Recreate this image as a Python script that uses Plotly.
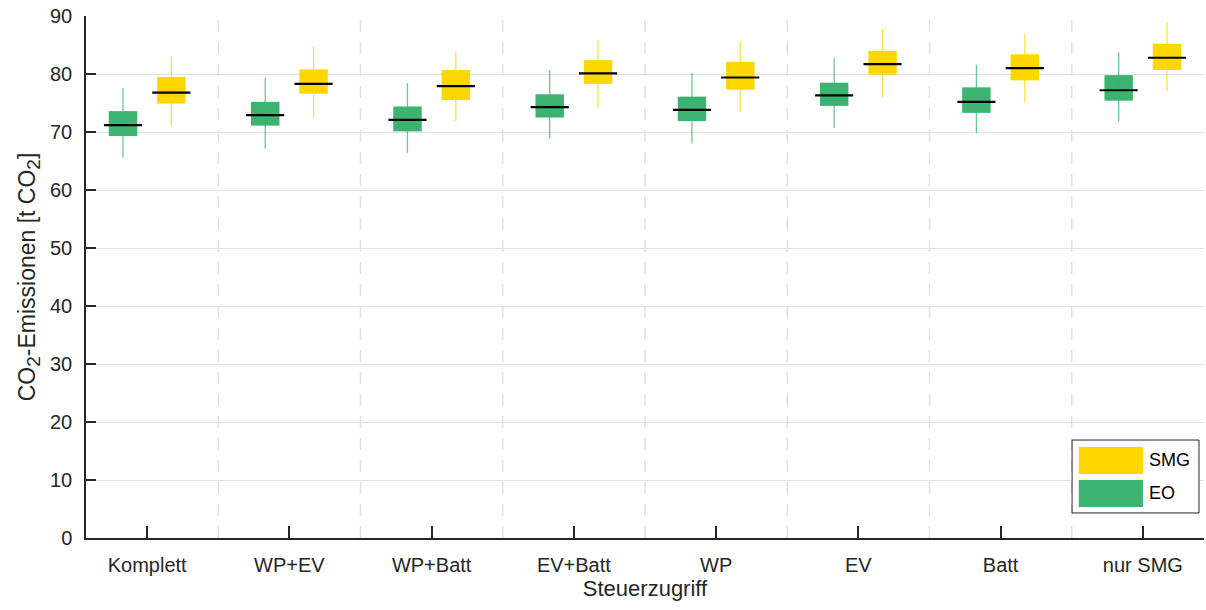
import plotly.graph_objects as go

categories = ["Komplett", "WP+EV", "WP+Batt", "EV+Batt", "WP", "EV", "Batt", "nur SMG"]

# EO scenario: whisker low, lower quartile, median, upper quartile, whisker high
eo_low = [65.6, 67.1, 66.4, 68.8, 68.0, 70.7, 69.8, 71.8]
eo_q1 = [69.3, 71.1, 70.1, 72.5, 71.9, 74.5, 73.3, 75.4]
eo_med = [71.2, 72.9, 72.1, 74.3, 73.8, 76.3, 75.2, 77.2]
eo_q3 = [73.6, 75.2, 74.4, 76.5, 76.1, 78.5, 77.7, 79.8]
eo_high = [77.6, 79.4, 78.4, 80.7, 80.2, 82.7, 81.6, 83.7]

# SMG scenario
smg_low = [71.1, 72.5, 71.9, 74.2, 73.5, 75.9, 75.1, 77.0]
smg_q1 = [74.9, 76.6, 75.5, 78.3, 77.3, 79.9, 78.9, 80.7]
smg_med = [76.8, 78.3, 77.9, 80.1, 79.4, 81.7, 81.0, 82.8]
smg_q3 = [79.5, 80.8, 80.7, 82.4, 82.1, 84.0, 83.4, 85.2]
smg_high = [83.0, 84.7, 83.8, 85.9, 85.6, 87.8, 86.9, 89.0]

GREEN = "#3CB371"
YELLOW = "#FFD700"
OFFSET = 0.17
BOX_W = 0.2
MED_HALF = 0.134

FONT = "Liberation Sans, Arial, Helvetica, sans-serif"
TXT = "#262626"

fig = go.Figure()


def add_series(offset, low, q1, med, q3, high, color, whisker_color):
    xs = [i + offset for i in range(len(categories))]
    wx, wy = [], []
    for x, lo, hi in zip(xs, low, high):
        wx += [x, x, None]
        wy += [lo, hi, None]
    fig.add_trace(go.Scatter(x=wx, y=wy, mode="lines",
                             line=dict(color=whisker_color, width=1.3),
                             hoverinfo="skip", showlegend=False))
    fig.add_trace(go.Bar(x=xs, base=q1, y=[b - a for a, b in zip(q1, q3)],
                         width=BOX_W, marker=dict(color=color, line=dict(width=0)),
                         showlegend=False))
    mx, my = [], []
    for x, m in zip(xs, med):
        mx += [x - MED_HALF, x + MED_HALF, None]
        my += [m, m, None]
    fig.add_trace(go.Scatter(x=mx, y=my, mode="lines",
                             line=dict(color="black", width=2.2),
                             hoverinfo="skip", showlegend=False))


add_series(-OFFSET, eo_low, eo_q1, eo_med, eo_q3, eo_high, GREEN, "rgba(60,179,113,0.75)")
add_series(OFFSET, smg_low, smg_q1, smg_med, smg_q3, smg_high, YELLOW, "rgba(255,215,0,0.75)")

# dashed separators between groups
shapes = []
for i in range(len(categories) - 1):
    shapes.append(dict(type="line", xref="x", yref="y", x0=i + 0.5, x1=i + 0.5,
                       y0=0, y1=90, layer="below",
                       line=dict(color="#e2e2e2", width=1.5, dash="12px,10px")))

# legend box (paper coordinates)
shapes.append(dict(type="rect", xref="paper", yref="paper", x0=0.882, x1=0.9955,
                   y0=0.048, y1=0.1877, line=dict(color="#262626", width=1), fillcolor="white"))
shapes.append(dict(type="rect", xref="paper", yref="paper", x0=0.888, x1=0.9454,
                   y0=0.1226, y1=0.1743, line=dict(width=0), fillcolor=YELLOW))
shapes.append(dict(type="rect", xref="paper", yref="paper", x0=0.888, x1=0.9454,
                   y0=0.0594, y1=0.1111, line=dict(width=0), fillcolor=GREEN))
annotations = [
    dict(text="SMG", xref="paper", yref="paper", x=0.949, y=0.1494, xanchor="left",
         yanchor="middle", showarrow=False, font=dict(family=FONT, size=18, color="black")),
    dict(text="EO", xref="paper", yref="paper", x=0.949, y=0.0862, xanchor="left",
         yanchor="middle", showarrow=False, font=dict(family=FONT, size=18, color="black")),
]

SUB2 = "<sub><span style='font-size:19px'>2</span></sub>"

fig.update_layout(
    width=1206, height=610,
    margin=dict(l=86, r=2, t=16, b=72),
    paper_bgcolor="white", plot_bgcolor="white",
    barmode="overlay",
    showlegend=False,
    shapes=shapes,
    annotations=annotations,
    font=dict(family=FONT, size=20, color=TXT),
    xaxis=dict(
        range=[-0.43, 7.43],
        tickmode="array", tickvals=list(range(len(categories))), ticktext=categories,
        ticks="inside", ticklen=12, tickwidth=2, tickcolor="#262626",
        showline=True, linecolor="#262626", linewidth=1.5,
        showgrid=False, zeroline=False,
        ticklabelstandoff=8,
        title=dict(text="Steuerzugriff", standoff=6, font=dict(size=22, color=TXT)),
        tickfont=dict(size=20, color=TXT),
    ),
    yaxis=dict(
        range=[0, 90], tickmode="array", tickvals=list(range(0, 91, 10)),
        ticks="inside", ticklen=10, tickwidth=2, tickcolor="#262626",
        showline=True, linecolor="#262626", linewidth=1.5,
        showgrid=True, gridcolor="#e2e2e2", gridwidth=1,
        zeroline=False,
        ticklabelstandoff=8,
        title=dict(text="CO" + SUB2 + "-Emissionen [t CO" + SUB2 + "]", standoff=8,
                   font=dict(size=23, color=TXT)),
        tickfont=dict(size=20, color=TXT),
    ),
)

fig.write_html("out.html")
